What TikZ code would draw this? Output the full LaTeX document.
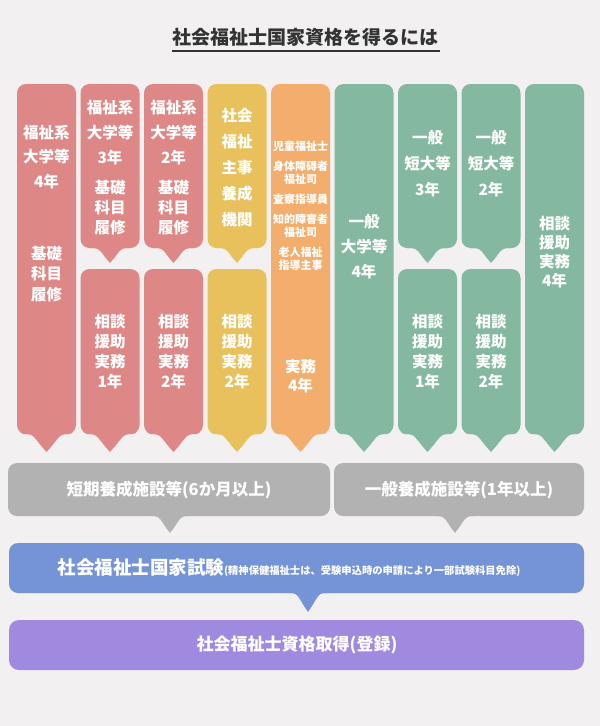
\documentclass[tikz,border=0pt]{standalone}
\usepackage{fontspec}
\setmainfont{Noto Sans CJK JP}
\usepackage{tikz}
\usetikzlibrary{calc}

\definecolor{bgpaper}{RGB}{242,240,240}
\definecolor{rosecol}{RGB}{221,136,134}
\definecolor{yellowcol}{RGB}{232,193,92}
\definecolor{orangecol}{RGB}{243,174,110}
\definecolor{greencol}{RGB}{132,184,160}
\definecolor{greycol}{RGB}{178,178,178}
\definecolor{bluecol}{RGB}{117,148,216}
\definecolor{purplecol}{RGB}{160,138,224}
\definecolor{titlecol}{RGB}{51,51,51}

% colour, left, top, right, bottom, tip x, tip half width, tip depth
\newcommand*{\callout}[8]{%
  \fill[#1,rounded corners=9pt] (#2,#3) rectangle (#4,#5);
  \fill[#1,rounded corners=4pt] ({#6-#7-12},{#5-8}) -- ({#6+#7+12},{#5-8})
  -- ({#6+#7+12},#5) -- ({#6+#7},#5) -- (#6,{#5+#8}) -- ({#6-#7},#5)
  -- ({#6-#7-12},#5) -- cycle;
  \fill[#1] ({#6-0.5*#7},{#5+0.5*#8}) -- (#6,{#5+#8}) -- ({#6+0.5*#7},{#5+0.5*#8}) -- cycle;
}

\tikzset{
  coltext/.style={text=white,align=center,inner sep=0pt,
    font=\bfseries\fontsize{15.5}{#1}\selectfont},
  coltext/.default=20,
  smalltext/.style={text=white,align=center,inner sep=0pt,
    font=\bfseries\fontsize{11}{13}\selectfont},
  bartext/.style={text=white,inner sep=0pt,font=\bfseries\fontsize{#1}{#1}\selectfont},
}

\begin{document}
\begin{tikzpicture}[x=1pt,y=-1pt]
  \fill[bgpaper] (0,0) rectangle (600,726);
  \useasboundingbox (0,0) rectangle (600,726);

  \node[text=titlecol,inner sep=0pt,font=\bfseries\fontsize{19}{19}\selectfont]
  (title) at (305,37) {社会福祉士国家資格を得るには};
  \draw[titlecol,line width=1.2pt] (172,51) -- (440,51);

  % tall columns
  \foreach \i/\colr in {1/rosecol,5/orangecol,6/greencol,9/greencol} {
    \pgfmathsetmacro{\lft}{17+63.5*(\i-1)}
    \pgfmathsetmacro{\rgt}{\lft+59}
    \pgfmathsetmacro{\colmid}{\lft+29.5}
    \callout{\colr}{\lft}{84}{\rgt}{434}{\colmid}{15}{18}
  }
  % split columns
  \foreach \i/\colr in {2/rosecol,3/rosecol,4/yellowcol,7/greencol,8/greencol} {
    \pgfmathsetmacro{\lft}{17+63.5*(\i-1)}
    \pgfmathsetmacro{\rgt}{\lft+59}
    \pgfmathsetmacro{\colmid}{\lft+29.5}
    \callout{\colr}{\lft}{84}{\rgt}{248}{\colmid}{12}{15}
    \callout{\colr}{\lft}{269}{\rgt}{434}{\colmid}{15}{18}
  }

  \node[coltext=24.5] (fukushi4) at (46.5,157) {福祉系\\大学等\\4年};
  \node[coltext=20.5] (kiso4) at (46.5,274) {基礎\\科目\\履修};

  \node[coltext=25] (fukushi3) at (110,133) {福祉系\\大学等\\3年};
  \node[coltext] (kiso3) at (110,208) {基礎\\科目\\履修};
  \node[coltext] (jitsumu3) at (110,352) {相談\\援助\\実務\\1年};

  \node[coltext=25] (fukushi2) at (173.5,133) {福祉系\\大学等\\2年};
  \node[coltext] (kiso2) at (173.5,208) {基礎\\科目\\履修};
  \node[coltext] (jitsumu2) at (173.5,352) {相談\\援助\\実務\\2年};

  \node[coltext=26] (shuji) at (237,167.5) {社会\\福祉\\主事\\養成\\機関};
  \node[coltext] (jitsumushuji) at (237,352) {相談\\援助\\実務\\2年};

  \node[smalltext] (shokushu) at (300.5,206)
  {児童福祉士\\[7pt]身体障碍者\\福祉司\\[7pt]査察指導員\\[7pt]知的障害者\\福祉司\\[7pt]老人福祉\\指導主事};
  \node[coltext=19] (jitsumu4) at (300.5,376) {実務\\4年};

  \node[coltext=25] (ippan4) at (364,247) {一般\\大学等\\4年};
  \node[coltext=26] (tandai3) at (427.5,164) {一般\\短大等\\3年};
  \node[coltext] (tjitsumu1) at (427.5,352) {相談\\援助\\実務\\1年};
  \node[coltext=26] (tandai2) at (491,164) {一般\\短大等\\2年};
  \node[coltext] (tjitsumu2) at (491,352) {相談\\援助\\実務\\2年};
  \node[coltext=19] (soudan4) at (554.5,252) {相談\\援助\\実務\\4年};

  % training facilities
  \callout{greycol}{8}{463}{330}{516}{170}{12}{17}
  \callout{greycol}{334}{463}{584}{516}{455}{12}{17}
  \node[bartext=16.5] (tanki) at (169,490) {短期養成施設等(6か月以上)};
  \node[bartext=16.5] (ippan) at (459,490) {一般養成施設等(1年以上)};

  % exam and registration
  \callout{bluecol}{9}{543}{584}{593}{308}{12}{19}
  \node[bartext=18.5] (shiken) at (289,568)
  {社会福祉士国家試験{\fontsize{10.3}{10.3}\selectfont (精神保健福祉士は、受験申込時の申請により一部試験科目免除)}};
  \fill[purplecol,rounded corners=10pt] (9,620) rectangle (584,670);
  \node[bartext=17] (touroku) at (297,645) {社会福祉士資格取得(登録)};
\end{tikzpicture}
\end{document}
